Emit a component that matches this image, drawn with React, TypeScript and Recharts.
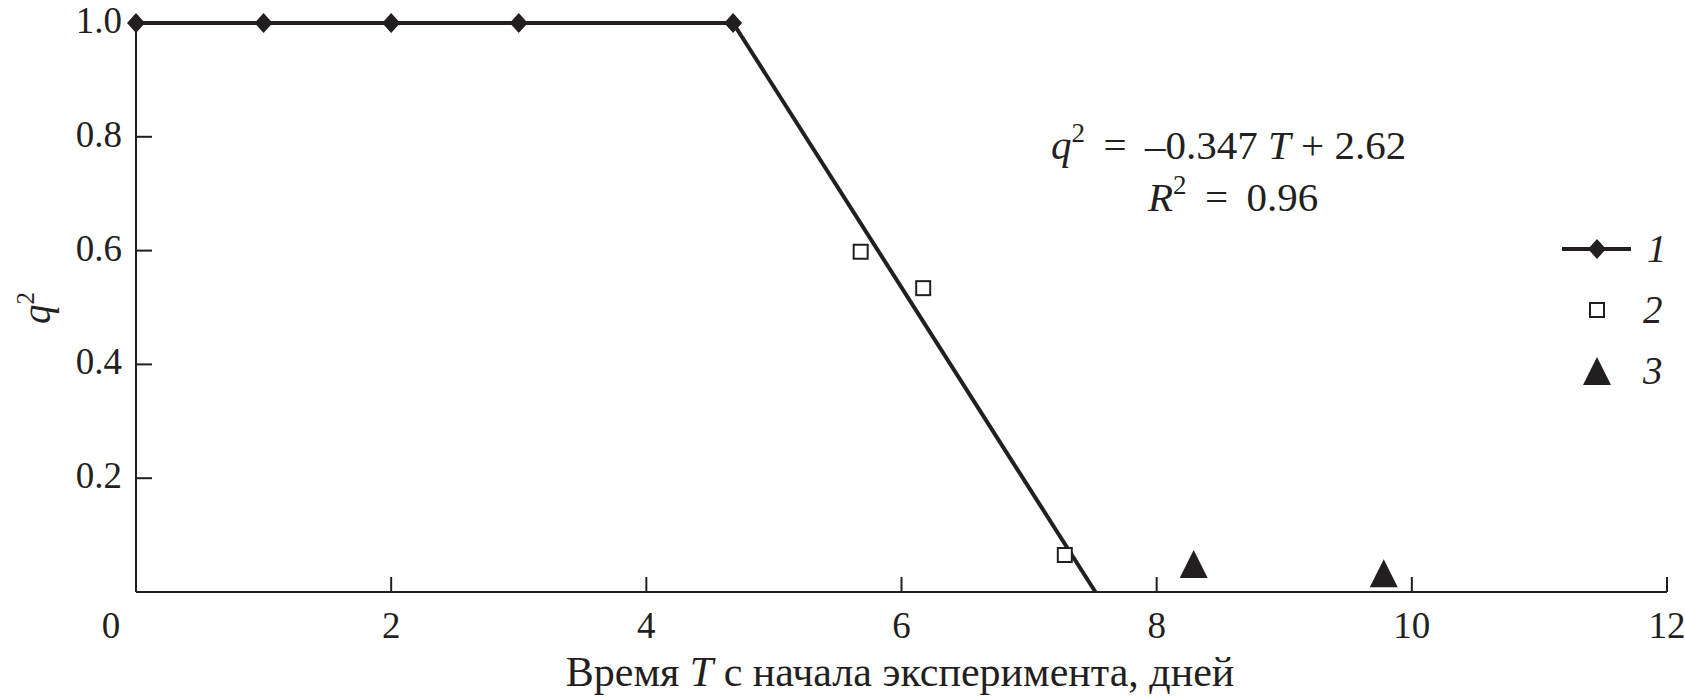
import { Customized, Scatter, ScatterChart, XAxis, YAxis } from "recharts";

const INK = "#231f20";
const FONT = "Liberation Serif";
const THIN = "\u2009";

// 1: q² = 1 в первые сутки эксперимента
const series1 = [
  { x: 0, y: 1 },
  { x: 1, y: 1 },
  { x: 2, y: 1 },
  { x: 3, y: 1 },
  { x: 4.68, y: 1 },
];
// линейный спад q² = -0.347T + 2.62 до нуля
const fitLine = [
  { x: 4.68, y: 1 },
  { x: 7.52, y: 0 },
];
// 2: открытые квадраты
const series2 = [
  { x: 5.68, y: 0.598 },
  { x: 6.17, y: 0.534 },
  { x: 7.28, y: 0.065 },
];
// 3: треугольники после обнуления
const series3 = [
  { x: 8.29, y: 0.049 },
  { x: 9.78, y: 0.033 },
];

const xTicks = [0, 2, 4, 6, 8, 10, 12];
const yTicks = [0.2, 0.4, 0.6, 0.8, 1.0];

const Diamond = ({ cx, cy }: any) => (
  <polygon
    points={`${cx},${cy - 10} ${cx + 9},${cy} ${cx},${cy + 10} ${cx - 9},${cy}`}
    fill={INK}
  />
);

const OpenSquare = ({ cx, cy }: any) => (
  <rect x={cx - 7} y={cy - 7} width={14} height={14} fill="#fff" stroke={INK} strokeWidth={2} />
);

const Triangle = ({ cx, cy }: any) => (
  <polygon points={`${cx},${cy - 14} ${cx + 14},${cy + 14} ${cx - 14},${cy + 14}`} fill={INK} />
);

const NoDot = () => <g />;

// засечки внутрь графика, подпись «0» сдвинута влево от оси Y
const XTick = ({ x, y, payload }: any) => {
  const v = payload.value;
  return (
    <g>
      {v !== 0 && <line x1={x} x2={x} y1={y} y2={y - 15} stroke={INK} strokeWidth={2} />}
      <text
        x={v === 0 ? x - 25 : x}
        y={y + 46}
        textAnchor="middle"
        fontFamily={FONT}
        fontSize={37}
        fill={INK}
      >
        {v}
      </text>
    </g>
  );
};

const YTick = ({ x, y, payload }: any) => (
  <g>
    <line x1={x} x2={x + 16} y1={y} y2={y} stroke={INK} strokeWidth={2} />
    <text x={x - 14} y={y + 10} textAnchor="end" fontFamily={FONT} fontSize={37} fill={INK}>
      {Number(payload.value).toFixed(1)}
    </text>
  </g>
);

const Annotations = () => (
  <g fill={INK}>
    {/* подпись оси Y */}
    <text transform="translate(50,308) rotate(-90)" textAnchor="middle" fontSize={39} fontFamily={FONT}>
      <tspan fontStyle="italic">q</tspan>
      <tspan fontSize={25} dy={-16}>2</tspan>
    </text>

    {/* подпись оси X */}
    <text x={900} y={686} textAnchor="middle" fontSize={42} fontFamily={FONT}>
      Время <tspan fontStyle="italic">T</tspan> с начала эксперимента, дней
    </text>

    {/* уравнение регрессии */}
    <text x={1051} y={159} fontSize={41} fontFamily={FONT}>
      <tspan fontStyle="italic">q</tspan>
      <tspan fontSize={27} dy={-17}>2</tspan>
      <tspan dy={17}>{` ${THIN}=${THIN} –0.347 `}</tspan>
      <tspan fontStyle="italic">T</tspan>
      <tspan> + 2.62</tspan>
    </text>
    <text x={1148} y={211} fontSize={41} fontFamily={FONT}>
      <tspan fontStyle="italic">R</tspan>
      <tspan fontSize={27} dy={-17}>2</tspan>
      <tspan dy={17}>{` ${THIN}=${THIN} 0.96`}</tspan>
    </text>

    {/* легенда */}
    <line x1={1562} x2={1631} y1={249} y2={249} stroke={INK} strokeWidth={4} />
    <Diamond cx={1597} cy={249} />
    <text x={1647} y={262} fontSize={39} fontStyle="italic" fontFamily={FONT}>1</text>
    <OpenSquare cx={1597} cy={310} />
    <text x={1643} y={323} fontSize={39} fontStyle="italic" fontFamily={FONT}>2</text>
    <Triangle cx={1597} cy={371} />
    <text x={1643} y={384} fontSize={39} fontStyle="italic" fontFamily={FONT}>3</text>
  </g>
);

export default function App() {
  return (
    <div style={{ position: "absolute", left: 0, top: 0, background: "#fff" }}>
      <ScatterChart width={1685} height={699} margin={{ top: 23, right: 18, bottom: 0, left: 0 }}>
        <XAxis
          type="number"
          dataKey="x"
          domain={[0, 12]}
          ticks={xTicks}
          interval={0}
          tickSize={0}
          tickMargin={0}
          tick={<XTick />}
          tickLine={false}
          axisLine={{ stroke: INK, strokeWidth: 2 }}
          height={107}
        />
        <YAxis
          type="number"
          dataKey="y"
          domain={[0, 1]}
          ticks={yTicks}
          interval={0}
          tickSize={0}
          tickMargin={0}
          tick={<YTick />}
          tickLine={false}
          axisLine={{ stroke: INK, strokeWidth: 2 }}
          width={136}
        />
        <Scatter
          data={fitLine}
          line={{ stroke: INK, strokeWidth: 4 }}
          lineType="joint"
          shape={<NoDot />}
          isAnimationActive={false}
        />
        <Scatter
          data={series1}
          line={{ stroke: INK, strokeWidth: 4 }}
          lineType="joint"
          shape={<Diamond />}
          isAnimationActive={false}
        />
        <Scatter data={series2} shape={<OpenSquare />} isAnimationActive={false} />
        <Scatter data={series3} shape={<Triangle />} isAnimationActive={false} />
        <Customized component={Annotations} />
      </ScatterChart>
    </div>
  );
}
